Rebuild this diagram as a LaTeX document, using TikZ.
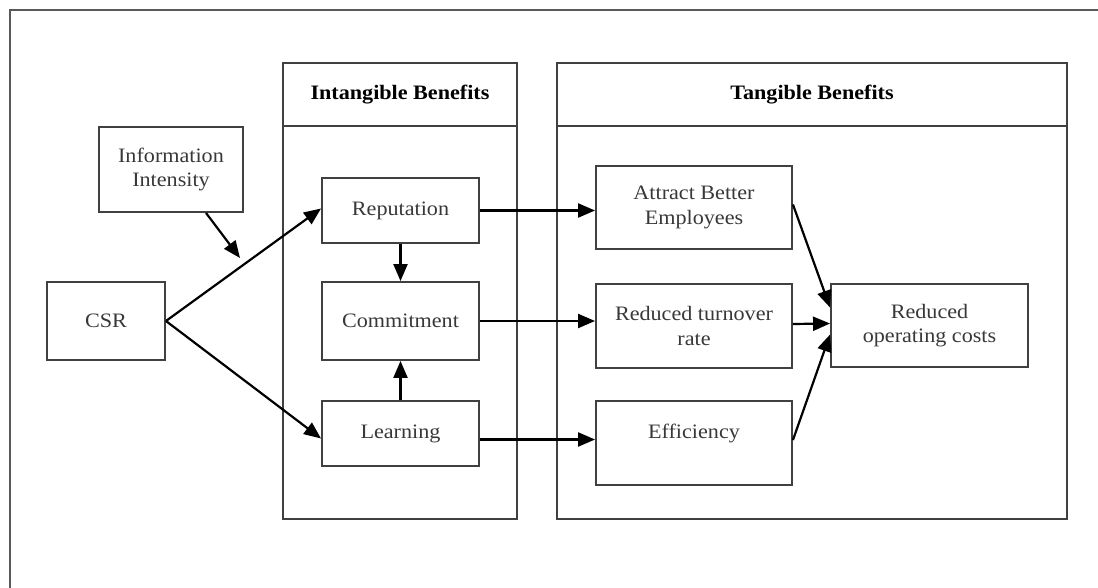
\documentclass[tikz,border=0pt]{standalone}
\usepackage{fontspec}
\setmainfont[FakeStretch=1.08]{Liberation Serif}
\usetikzlibrary{arrows.meta,calc}
\begin{document}
\begin{tikzpicture}[x=1pt,y=-1pt,
  frameline/.style={draw=black!65,line width=2pt},
  box/.style={draw=black!75,line width=1.9pt,rectangle,inner sep=0pt,
    align=center,text=black!78,font=\fontsize{20.5}{24.5}\selectfont},
  hdr/.style={box,text=black,font=\fontsize{20.5}{24.5}\selectfont\bfseries},
  txt/.style={inner sep=0pt,align=center,text=black!78,font=\fontsize{20.5}{24.5}\selectfont},
  arr/.style={draw=black,line width=2.2pt,-{Triangle[length=17pt,width=14pt]}}]
\useasboundingbox (0,0) rectangle (1098,588);
% outer frame
\coordinate (fa) at (10,588);
\coordinate (fb) at (10,10);
\coordinate (fc) at (1098,10);
\draw[frameline] (fa) -- (fb) -- (fc);
% containers
\node[hdr,minimum width=234,minimum height=63] (ih) at (400,94.5) {Intangible Benefits};
\node[box,minimum width=234,minimum height=393] (ib) at (400,322.5) {};
\node[hdr,minimum width=510,minimum height=63] (th) at (812,94.5) {Tangible Benefits};
\node[box,minimum width=510,minimum height=393] (tb) at (812,322.5) {};
% nodes
\node[box,minimum width=144,minimum height=85] (info) at (171,169.5) {Information\\Intensity};
\node[box,minimum width=118,minimum height=78] (csr) at (106,321) {CSR};
\node[box,minimum width=157,minimum height=65] (rep) at (400.5,210.5) {Reputation};
\node[box,minimum width=157,minimum height=78] (com) at (400.5,321) {Commitment};
\node[box,minimum width=157,minimum height=65] (learn) at (400.5,433.5) {Learning};
\node[box,minimum width=196,minimum height=83] (att) at (694,207.5) {Attract Better\\Employees};
\node[box,minimum width=196,minimum height=84] (rt) at (694,326) {Reduced turnover\\rate};
\node[box,minimum width=196,minimum height=84] (eff) at (694,443) {};
\node[txt] (efft) at (694,433) {Efficiency};
\node[box,minimum width=197,minimum height=83] (roc) at (929.5,325.5) {Reduced\\operating costs};
% connectors
\coordinate (ii) at (240,258);
\draw[arr] ($(info.south)+(35,0)$) -- (ii);
\draw[arr] (csr.east) -- ($(rep.west)+(0,-2)$);
\draw[arr] (csr.east) -- ($(learn.west)+(0,5)$);
\draw[arr] (rep.south) -- (com.north);
\draw[arr] (learn.north) -- (com.south);
\draw[arr] (rep.east) -- (rep.east -| att.west);
\draw[arr] (com.east) -- (com.east -| rt.west);
\draw[arr] ($(learn.east)+(0,6)$) -- ($(learn.east -| eff.west)+(0,6)$);
\draw[arr] ($(att.east)+(0,-3)$) -- ($(roc.west)+(0,-18)$);
\draw[arr] ($(rt.east)+(0,-2)$) -- ($(roc.west)+(0,-2)$);
\draw[arr] ($(eff.east)+(0,-3)$) -- ($(roc.west)+(0,9)$);
\end{tikzpicture}
\end{document}
